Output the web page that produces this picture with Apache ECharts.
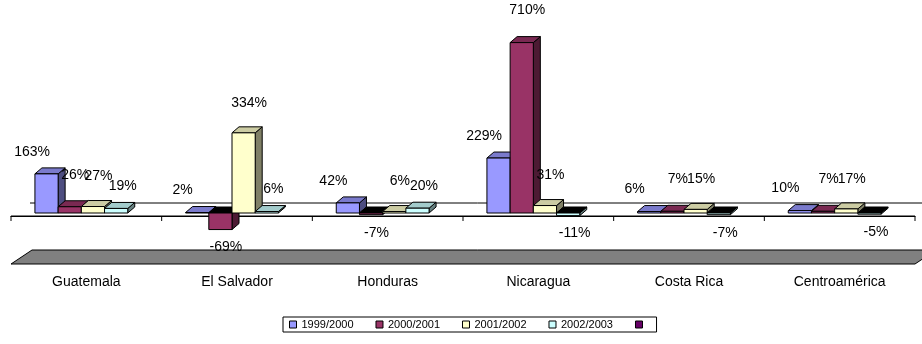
<!DOCTYPE html>
<html>
<head>
<meta charset="utf-8">
<script src="https://cdn.jsdelivr.net/npm/echarts@6/dist/echarts.min.js"></script>
<style>
  html, body { margin: 0; background: #fff; }
  #chart { width: 922px; height: 344px; }
</style>
</head>
<body>
<div id="chart"></div>
<script>
const categories = ['Guatemala', 'El Salvador', 'Honduras', 'Nicaragua', 'Costa Rica', 'Centroamérica'];
const seriesNames = ['1999/2000', '2000/2001', '2001/2002', '2002/2003', ' '];
const v1999 = [163, 2, 42, 229, 6, 10];
const v2000 = [26, -69, -7, 710, 7, 7];
const v2001 = [27, 334, 6, 31, 15, 17];
const v2002 = [19, 6, 20, -11, -7, -5];
const valuesList = [v1999, v2000, v2001, v2002, []];

const colors = ['#9999ff', '#993366', '#ffffcc', '#ccffff', '#660066'];
const FONT = '"Liberation Sans", Arial, sans-serif';

// 3d look
const DX = 7, DY = -6, BACK = 3;
const labelOff = [[-18, -22], [2, -32], [2, -30], [3, -22]];

function darken(hex, k) {
  const n = parseInt(hex.slice(1), 16);
  const r = Math.round(((n >> 16) & 255) * k);
  const g = Math.round(((n >> 8) & 255) * k);
  const b = Math.round((n & 255) * k);
  return 'rgb(' + r + ',' + g + ',' + b + ')';
}

function makeRender(s) {
  return function (params, api) {
    const cat = api.value(0), v = api.value(1);
    const p0 = api.coord([cat, 0]);
    const p1 = api.coord([cat, v]);
    const cw = api.size([1, 0])[0];
    const bw = cw * 0.154;
    const x = p0[0] - 2 * bw - 5 + s * bw;
    const yT = Math.min(p0[1], p1[1]) - BACK;
    const yB = Math.max(p0[1], p1[1]) - BACK;
    const c = colors[s];
    const neg = v < 0;
    const line = { stroke: '#000', lineWidth: 1 };
    const lx = x + bw / 2 + DX / 2 + labelOff[s][0];
    const ly = neg ? yB + 18 : yT + labelOff[s][1];
    return {
      type: 'group',
      children: [
        {
          type: 'polygon',
          shape: { points: [[x + bw, yT], [x + bw + DX, yT + DY], [x + bw + DX, yB + DY], [x + bw, yB]] },
          style: Object.assign({ fill: darken(c, 0.5) }, line)
        },
        {
          type: 'polygon',
          shape: { points: [[x, yT], [x + bw, yT], [x + bw + DX, yT + DY], [x + DX, yT + DY]] },
          style: Object.assign({ fill: neg ? '#000' : darken(c, 0.8) }, line)
        },
        {
          type: 'rect',
          shape: { x: x, y: yT, width: bw, height: yB - yT },
          style: Object.assign({ fill: c }, line)
        },
        {
          type: 'text',
          x: lx,
          y: ly,
          z2: 100,
          style: {
            text: v + '%',
            align: 'center',
            verticalAlign: 'middle',
            fontSize: 14,
            fontFamily: FONT,
            fill: '#000'
          }
        }
      ]
    };
  };
}

const chart = echarts.init(document.getElementById('chart'));
chart.setOption({
  animation: false,
  backgroundColor: '#fff',
  grid: { left: 11, right: 7, top: 24, bottom: 80 },
  legend: {
    data: seriesNames,
    left: 283,
    top: 317,
    padding: [2, 6],
    itemGap: 22,
    itemWidth: 7,
    itemHeight: 7,
    icon: 'rect',
    borderColor: '#000',
    borderWidth: 1,
    itemStyle: { borderColor: '#000', borderWidth: 1 },
    textStyle: { fontSize: 11, fontFamily: FONT, color: '#000' }
  },
  xAxis: {
    type: 'category',
    data: categories,
    axisLine: { lineStyle: { color: '#000', width: 1 } },
    axisTick: { length: 4, lineStyle: { color: '#000' } },
    axisLabel: { margin: 11, fontSize: 14, fontFamily: FONT, color: '#000' },
    splitLine: { show: false }
  },
  yAxis: {
    type: 'value',
    min: -200,
    max: 800,
    interval: 100,
    show: false,
    splitLine: { show: false }
  },
  series: seriesNames.map((name, s) => ({
    type: 'custom',
    name: name,
    data: valuesList[s].map((v, i) => [i, v]),
    encode: { x: 0, y: 1 },
    itemStyle: { color: colors[s], borderColor: '#000', borderWidth: 1 },
    renderItem: makeRender(Math.min(s, 3)),
    clip: false
  }))
});

// frame: zero plane edges and floor, placed from the axes
const y0 = chart.convertToPixel({ yAxisIndex: 0 }, 0);
const yF = chart.convertToPixel({ yAxisIndex: 0 }, -200);
const L = 11, R = 922 - 7;
const cw = (R - L) / categories.length;
const frame = [
  {
    type: 'polygon', z: -1,
    shape: { points: [[L, yF], [R, yF], [R + 21, yF - 14], [L + 21, yF - 14]] },
    style: { fill: '#808080', stroke: '#000', lineWidth: 1 }
  },
  {
    type: 'line', z: -1,
    shape: { x1: L + 22, y1: y0 - 13, x2: 922, y2: y0 - 13 },
    style: { stroke: '#000', lineWidth: 1 }
  },
  {
    type: 'line', z: -1,
    shape: { x1: L + 19, y1: y0 - 13, x2: L + 22, y2: y0 - 13 },
    style: { stroke: '#000', lineWidth: 1 }
  },
  {
    type: 'line', z: -1,
    shape: { x1: L, y1: y0, x2: R, y2: y0 },
    style: { stroke: '#000', lineWidth: 1 }
  }
];
for (let k = 0; k <= categories.length; k++) {
  frame.push({
    type: 'line', z: -1,
    shape: { x1: L + k * cw, y1: y0, x2: L + k * cw, y2: y0 + 5 },
    style: { stroke: '#000', lineWidth: 1 }
  });
}
chart.setOption({ graphic: frame });
</script>
</body>
</html>
